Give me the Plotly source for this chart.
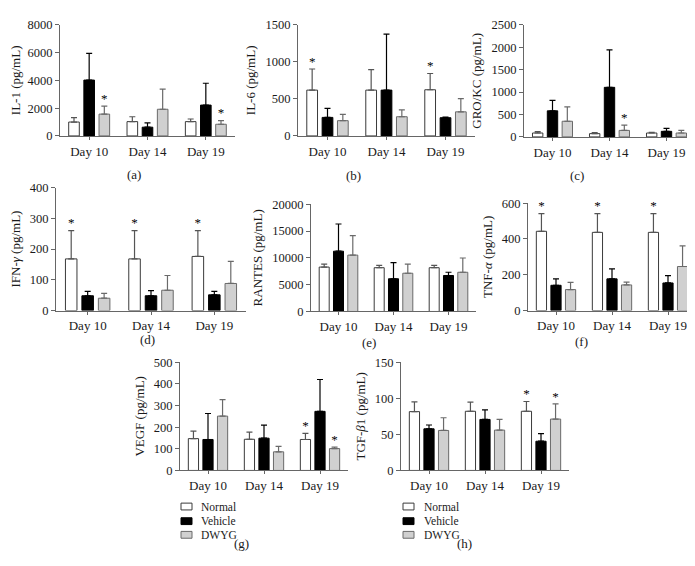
import plotly.graph_objects as go

days = ["Day 10", "Day 14", "Day 19"]
groups = ["Normal", "Vehicle", "DWYG"]

# values (mean) and upper error-bar tops per panel: [Normal, Vehicle, DWYG] x [Day10, Day14, Day19]
il1_mean = [[1000, 1030, 1030], [4020, 630, 2220], [1570, 1920, 840]]
il1_top = [[1310, 1380, 1220], [5940, 940, 3790], [2150, 3370, 1100]]
il1_star = [[0, 0, 0], [0, 0, 0], [1, 0, 1]]

il6_mean = [[618, 618, 623], [250, 618, 246], [206, 259, 325]]
il6_top = [[903, 895, 842], [373, 1373, 254], [290, 351, 504]]
il6_star = [[1, 0, 1], [0, 0, 0], [0, 0, 0]]

gro_mean = [[87, 73, 87], [581, 1105, 124], [349, 145, 87]]
gro_top = [[116, 94, 102], [814, 1940, 189], [669, 262, 145]]
gro_star = [[0, 0, 0], [0, 0, 0], [0, 1, 0]]

ifn_mean = [[168, 168, 176], [48, 48, 51], [40, 66, 88]]
ifn_top = [[260, 260, 260], [62, 65, 62], [56, 114, 160]]
ifn_star = [[1, 1, 1], [0, 0, 0], [0, 0, 0]]

rantes_mean = [[8280, 8160, 8160], [11240, 6100, 6710], [10510, 7130, 7310]]
rantes_top = [[8820, 8580, 8580], [16310, 9120, 7310], [14140, 8820, 9970]]
rantes_star = [[0, 0, 0], [0, 0, 0], [0, 0, 0]]

tnf_mean = [[443, 437, 437], [141, 177, 154], [117, 143, 246]]
tnf_top = [[542, 542, 542], [177, 233, 195], [157, 159, 361]]
tnf_star = [[1, 1, 1], [0, 0, 0], [0, 0, 0]]

vegf_mean = [[147, 144, 143], [143, 149, 273], [251, 86, 101]]
vegf_top = [[182, 177, 171], [263, 209, 420], [327, 111, 108]]
vegf_star = [[0, 0, 1], [0, 0, 0], [0, 0, 1]]

tgf_mean = [[81.5, 82, 82], [57.7, 70.7, 40.5], [55.4, 55.9, 71.2]]
tgf_top = [[95, 94.6, 95.5], [63, 83.8, 51], [73, 70.7, 92.3]]
tgf_star = [[0, 0, 1], [0, 0, 0], [0, 0, 1]]

y_titles = ["IL-1 (pg/mL)", "IL-6 (pg/mL)", "GRO/KC (pg/mL)", "IFN-<i>γ</i> (pg/mL)",
            "RANTES (pg/mL)", "TNF-<i>α</i> (pg/mL)", "VEGF (pg/mL)", "TGF-<i>β</i>1 (pg/mL)"]
captions = ["(a)", "(b)", "(c)", "(d)", "(e)", "(f)", "(g)", "(h)"]
y_max = [8000, 1500, 2500, 400, 20000, 600, 500, 150]
y_dtick = [2000, 500, 500, 100, 5000, 200, 100, 50]

data = [(il1_mean, il1_top, il1_star), (il6_mean, il6_top, il6_star),
        (gro_mean, gro_top, gro_star), (ifn_mean, ifn_top, ifn_star),
        (rantes_mean, rantes_top, rantes_star), (tnf_mean, tnf_top, tnf_star),
        (vegf_mean, vegf_top, vegf_star), (tgf_mean, tgf_top, tgf_star)]

W, H = 695, 566
# panel pixel boxes: x0, x1, ytop, ybottom, caption x, caption y
boxes = [(52, 227, 10, 124, 117, 154), (290, 467, 10, 124, 345, 155),
         (516, 687, 10, 125, 578, 155), (48, 238, 177, 303, 130, 333),
         (303, 468, 194, 304, 361, 336), (520, 688, 193, 303, 582, 335),
         (172, 340, 356, 467, 233, 552), (393, 561, 356, 467, 456, 552)]
# legend blocks (box left x, text left x, row centre ys)
legend_blocks = [(173, 191, [504, 519, 533]), (395, 414, [504, 519, 533])]

fills = ["#ffffff", "#000000", "#d0d0d0"]
lines = ["#3a3a3a", "#000000", "#6a6a6a"]
err_cols = ["#555555", "#000000", "#6a6a6a"]
FONT = "Liberation Serif"
TXT = "#1a1a1a"

fig = go.Figure()
layout = {}
annotations = []
shapes = []
for i, ((mean, top, star), box) in enumerate(zip(data, boxes)):
    x0, x1, yt, yb, cx, cy = box
    n = "" if i == 0 else str(i + 1)
    xa, ya = "x" + n, "y" + n
    for g in range(3):
        errs = [t - m for t, m in zip(top[g], mean[g])]
        fig.add_trace(go.Bar(
            x=days, y=mean[g], name=groups[g], xaxis=xa, yaxis=ya,
            offsetgroup=str(g),
            marker=dict(color=fills[g], line=dict(color=lines[g], width=1)),
            error_y=dict(type="data", array=errs, arrayminus=[0, 0, 0], symmetric=False,
                         color=err_cols[g], thickness=1.2, width=3),
            showlegend=False))
        sx = [d for d, s in zip(days, star[g]) if s]
        sy = [t for t, s in zip(top[g], star[g]) if s]
        if sx:
            fig.add_trace(go.Scatter(
                x=sx, y=sy, mode="text", text=["*"] * len(sx), textposition="top center",
                textfont=dict(family=FONT, size=13, color="#000000"),
                xaxis=xa, yaxis=ya, showlegend=False, hoverinfo="skip", cliponaxis=False,
                offsetgroup=str(g)))
    layout["xaxis" + n] = dict(
        domain=[x0 / W, x1 / W], anchor=ya, type="category", range=[-0.5, 2.5],
        showline=True, linecolor="#666", linewidth=1, ticks="outside", ticklen=3,
        tickcolor="#666", tickfont=dict(family=FONT, size=13, color=TXT),
        showgrid=False, zeroline=False, fixedrange=True)
    layout["yaxis" + n] = dict(
        domain=[1 - yb / H, 1 - yt / H], anchor=xa, range=[0, y_max[i]], dtick=y_dtick[i],
        tickformat="d",
        showline=True, linecolor="#666", linewidth=1, ticks="outside", ticklen=4,
        tickcolor="#666", tickfont=dict(family=FONT, size=12.5, color=TXT),
        showgrid=False, zeroline=False,
        title=dict(text=y_titles[i], font=dict(family=FONT, size=13, color=TXT), standoff=6))
    annotations.append(dict(text=captions[i], x=cx / W, y=1 - cy / H, xref="paper", yref="paper",
                            showarrow=False, font=dict(family=FONT, size=13, color=TXT)))

# legends under panels (g) and (h)
for bx, tx, ys in legend_blocks:
    for g, yc in enumerate(ys):
        shapes.append(dict(type="rect", xref="paper", yref="paper",
                           x0=bx / W, x1=(bx + 11) / W,
                           y0=1 - (yc + 3.5) / H, y1=1 - (yc - 3.5) / H,
                           fillcolor=fills[g], line=dict(color=lines[g], width=1)))
        annotations.append(dict(text=groups[g], x=tx / W, y=1 - yc / H, xref="paper",
                                yref="paper", xanchor="left", yanchor="middle",
                                showarrow=False, font=dict(family=FONT, size=11.5, color=TXT)))

fig.update_layout(**layout)
fig.update_layout(
    width=W, height=H, margin=dict(l=0, r=0, t=0, b=0),
    paper_bgcolor="white", plot_bgcolor="white",
    barmode="group", bargap=0.22, bargroupgap=0.3, scattermode="group",
    annotations=annotations, shapes=shapes, showlegend=False,
    font=dict(family=FONT),
)
fig.write_html("out.html")
